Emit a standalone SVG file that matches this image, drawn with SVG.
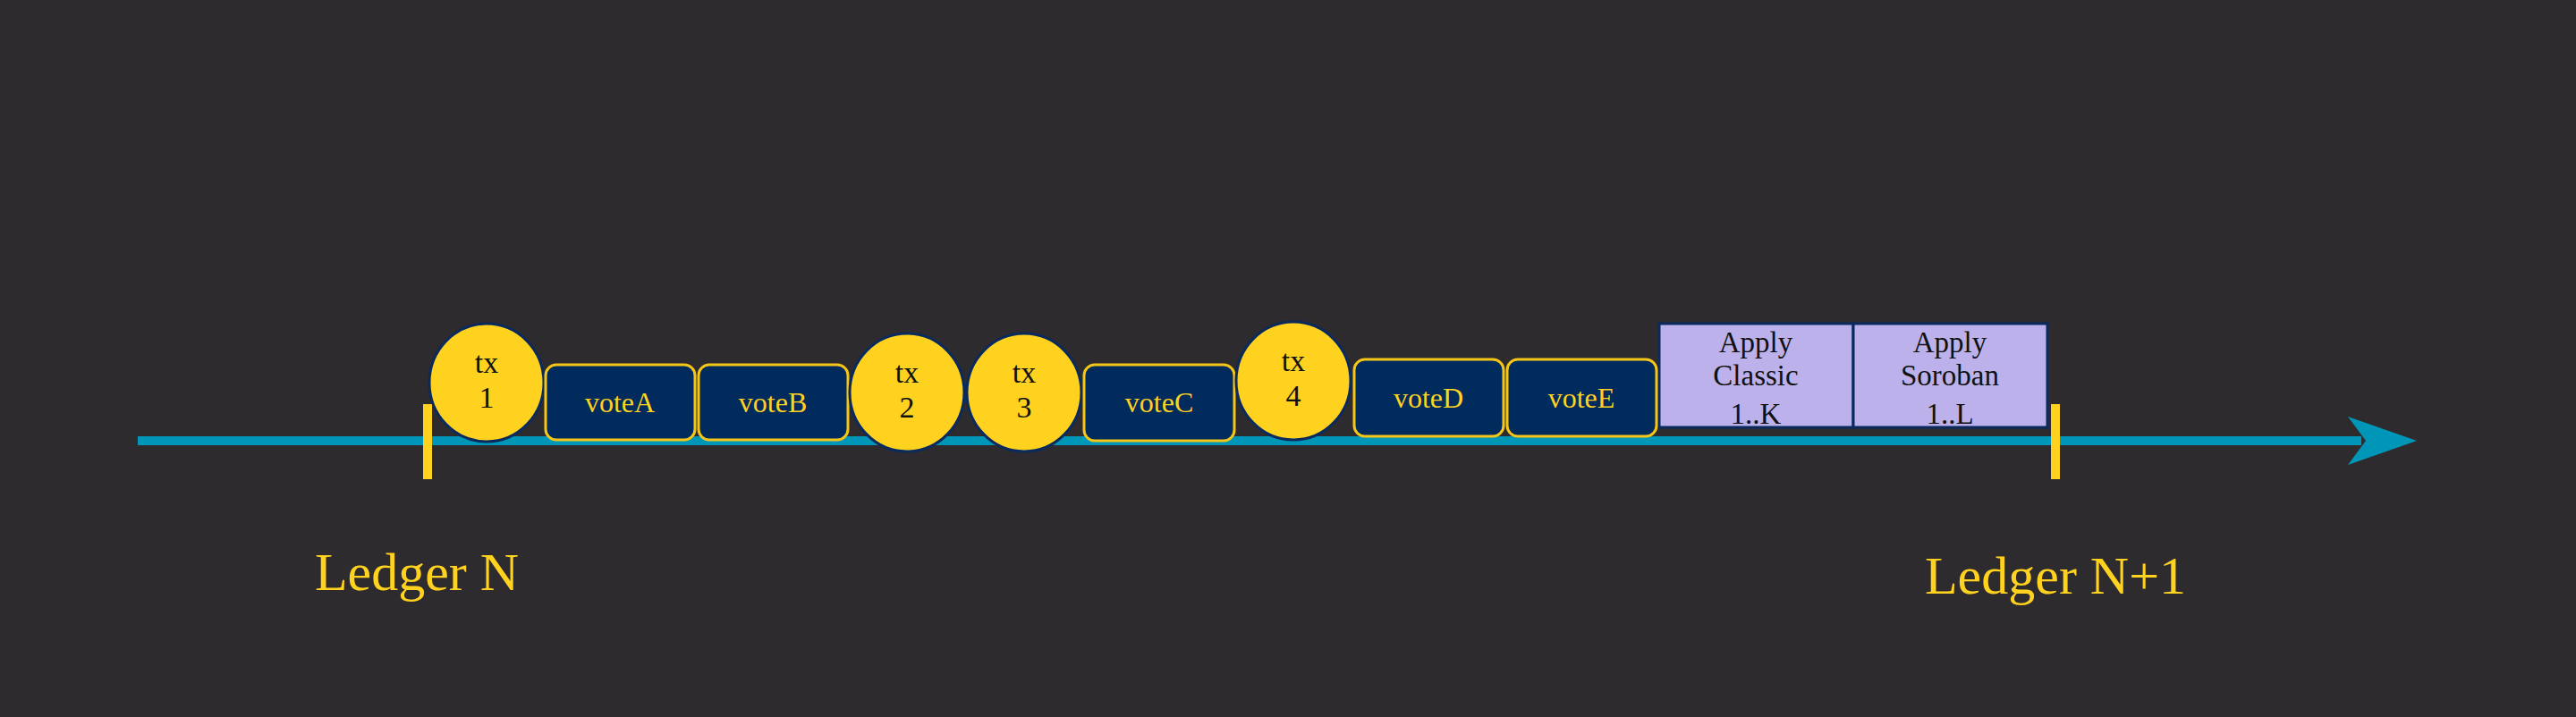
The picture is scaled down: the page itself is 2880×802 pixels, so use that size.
<svg xmlns="http://www.w3.org/2000/svg" width="2880" height="802" viewBox="0 0 2880 802">
<style>
.tx{fill:#ffd21f;stroke:#0a2a5e;stroke-width:3}
.txt{font-family:"Liberation Serif",serif;font-size:34px;fill:#111;text-anchor:middle}
.vote{fill:#002b5c;stroke:#f5c518;stroke-width:3}
.vt{font-family:"Liberation Serif",serif;font-size:32px;fill:#ffd21f;text-anchor:middle}
.ap{fill:#bcb1ea;stroke:#0a2a5e;stroke-width:3}
.at{font-family:"Liberation Serif",serif;font-size:33px;fill:#111;text-anchor:middle}
.lab{font-family:"Liberation Serif",serif;font-size:60px;fill:#ffd21f;text-anchor:middle}
.tick{stroke:#ffd21f;stroke-width:10}
</style>
<rect width="2880" height="802" fill="#2d2b2e"/>
<g id="connectors">
<line x1="154" y1="493" x2="2640" y2="493" stroke="#0096b8" stroke-width="10"/>
<polygon points="2625,466 2702,493 2625,520 2645,493" fill="#0096b8"/>
</g>
<g id="tickN"><line class="tick" x1="478" y1="452" x2="478" y2="536"/></g>
<g id="tickN1"><line class="tick" x1="2298" y1="452" x2="2298" y2="536"/></g>
<g id="apply-classic"><rect class="ap" x="1855" y="362" width="217" height="116"/><text class="at" x="1963" y="394">Apply</text><text class="at" x="1963" y="431">Classic</text><text class="at" x="1963" y="474">1..K</text></g>
<g id="apply-soroban"><rect class="ap" x="2072" y="362" width="217" height="116"/><text class="at" x="2180" y="394">Apply</text><text class="at" x="2180" y="431">Soroban</text><text class="at" x="2180" y="474">1..L</text></g>
<g id="tx1"><ellipse class="tx" cx="544" cy="428" rx="64" ry="66"/><text class="txt" x="544" y="417">tx</text><text class="txt" x="544" y="456">1</text></g>
<g id="voteA"><rect class="vote" x="610" y="408" width="167" height="84" rx="12"/><text class="vt" x="693" y="461">voteA</text></g>
<g id="voteB"><rect class="vote" x="781" y="408" width="167" height="84" rx="12"/><text class="vt" x="864" y="461">voteB</text></g>
<g id="tx2"><ellipse class="tx" cx="1014" cy="439" rx="64" ry="66"/><text class="txt" x="1014" y="428">tx</text><text class="txt" x="1014" y="467">2</text></g>
<g id="tx3"><ellipse class="tx" cx="1145" cy="439" rx="64" ry="66"/><text class="txt" x="1145" y="428">tx</text><text class="txt" x="1145" y="467">3</text></g>
<g id="voteC"><rect class="vote" x="1212" y="408" width="168" height="85" rx="12"/><text class="vt" x="1296" y="461">voteC</text></g>
<g id="tx4"><ellipse class="tx" cx="1446" cy="426" rx="64" ry="66"/><text class="txt" x="1446" y="415">tx</text><text class="txt" x="1446" y="454">4</text></g>
<g id="voteD"><rect class="vote" x="1514" y="402" width="167" height="86" rx="12"/><text class="vt" x="1597" y="456">voteD</text></g>
<g id="voteE"><rect class="vote" x="1685" y="402" width="167" height="86" rx="12"/><text class="vt" x="1768" y="456">voteE</text></g>
<g id="labelN"><text class="lab" x="466" y="660">Ledger N</text></g>
<g id="labelN1"><text class="lab" x="2298" y="664">Ledger N+1</text></g>
</svg>
